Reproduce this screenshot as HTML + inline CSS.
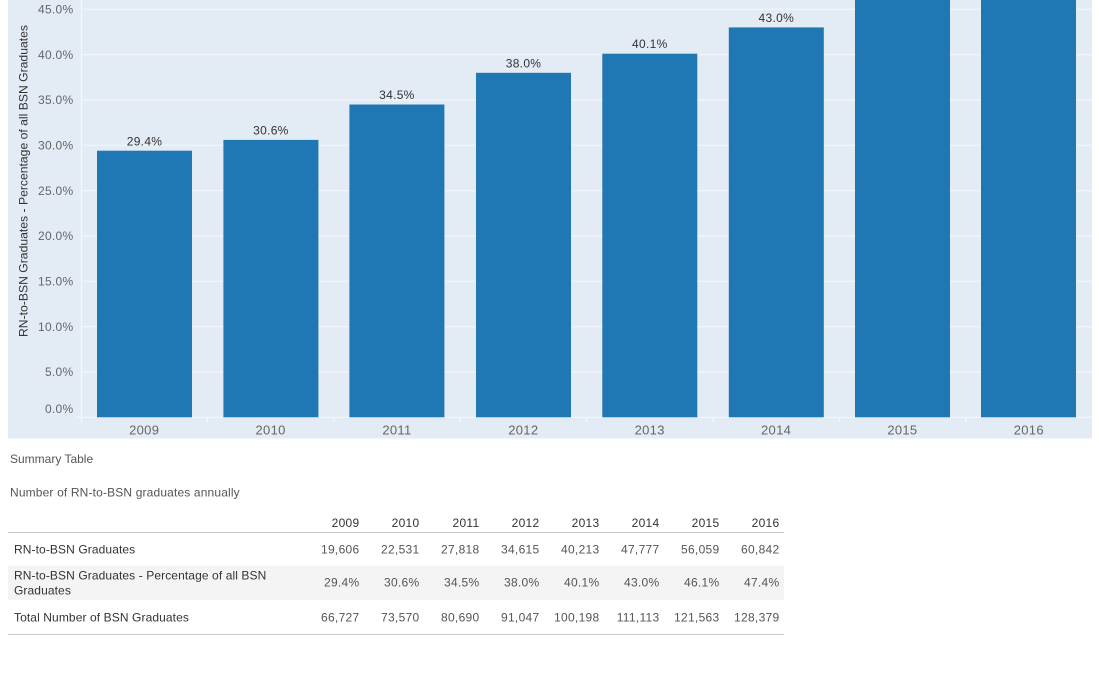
<!DOCTYPE html>
<html>
<head>
<meta charset="utf-8">
<style>
  html,body{margin:0;padding:0;background:#fff;}
  body{width:1099px;height:680px;overflow:hidden;}
  svg{display:block;font-family:"Liberation Sans",sans-serif;}
</style>
</head>
<body>
<svg width="1099" height="680" viewBox="0 0 1099 680" xmlns="http://www.w3.org/2000/svg">
  <!-- chart background -->
  <rect x="8" y="0" width="1084" height="438.5" fill="#e3ecf5"/>
  <!-- gridlines -->
  <g stroke="#f1f5fa" stroke-width="1.2">
    <line x1="81" y1="9.3" x2="1092" y2="9.3"/>
    <line x1="81" y1="54.6" x2="1092" y2="54.6"/>
    <line x1="81" y1="100" x2="1092" y2="100"/>
    <line x1="81" y1="145.3" x2="1092" y2="145.3"/>
    <line x1="81" y1="190.6" x2="1092" y2="190.6"/>
    <line x1="81" y1="236" x2="1092" y2="236"/>
    <line x1="81" y1="281.3" x2="1092" y2="281.3"/>
    <line x1="81" y1="326.6" x2="1092" y2="326.6"/>
    <line x1="81" y1="372" x2="1092" y2="372"/>
  </g>
  <!-- axis lines -->
  <g stroke="#f4f7fb" stroke-width="1.2">
    <line x1="81.5" y1="0" x2="81.5" y2="422"/>
    <line x1="76" y1="417.3" x2="1092" y2="417.3"/>
    <line x1="207.4" y1="417.3" x2="207.4" y2="422"/>
    <line x1="333.8" y1="417.3" x2="333.8" y2="422"/>
    <line x1="460.1" y1="417.3" x2="460.1" y2="422"/>
    <line x1="586.5" y1="417.3" x2="586.5" y2="422"/>
    <line x1="712.9" y1="417.3" x2="712.9" y2="422"/>
    <line x1="839.3" y1="417.3" x2="839.3" y2="422"/>
    <line x1="965.6" y1="417.3" x2="965.6" y2="422"/>
  </g>
  <!-- bars -->
  <g fill="#1f77b4">
    <rect x="97" y="150.7" width="95" height="266.6"/>
    <rect x="223.4" y="139.9" width="95" height="277.4"/>
    <rect x="349.4" y="104.5" width="95" height="312.8"/>
    <rect x="476" y="72.8" width="95" height="344.5"/>
    <rect x="602.3" y="53.7" width="95" height="363.6"/>
    <rect x="728.8" y="27.4" width="95" height="389.9"/>
    <rect x="855" y="0" width="95" height="417.3"/>
    <rect x="981" y="0" width="95" height="417.3"/>
  </g>
  <!-- bar labels -->
  <g font-size="12" fill="#333" text-anchor="middle" letter-spacing="0.3">
    <text x="144.5" y="145.3">29.4%</text>
    <text x="270.9" y="134.5">30.6%</text>
    <text x="396.9" y="99">34.5%</text>
    <text x="523.5" y="67.3">38.0%</text>
    <text x="649.8" y="48.2">40.1%</text>
    <text x="776.3" y="21.9">43.0%</text>
  </g>
  <!-- y tick labels -->
  <g font-size="12" fill="#666" text-anchor="end" letter-spacing="0.3">
    <text x="73.5" y="13.5">45.0%</text>
    <text x="73.5" y="58.8">40.0%</text>
    <text x="73.5" y="104.2">35.0%</text>
    <text x="73.5" y="149.5">30.0%</text>
    <text x="73.5" y="194.8">25.0%</text>
    <text x="73.5" y="240.2">20.0%</text>
    <text x="73.5" y="285.5">15.0%</text>
    <text x="73.5" y="330.8">10.0%</text>
    <text x="73.5" y="376.2">5.0%</text>
    <text x="73.5" y="412.9">0.0%</text>
  </g>
  <!-- y axis title -->
  <text x="0" y="0" font-size="12" fill="#333" text-anchor="middle" transform="translate(27.5,181) rotate(-90)" textLength="312" lengthAdjust="spacingAndGlyphs">RN-to-BSN Graduates - Percentage of all BSN Graduates</text>
  <!-- x labels -->
  <g font-size="13" fill="#666" text-anchor="middle" letter-spacing="0.3">
    <text x="144.2" y="434.7">2009</text>
    <text x="270.6" y="434.7">2010</text>
    <text x="396.9" y="434.7">2011</text>
    <text x="523.3" y="434.7">2012</text>
    <text x="649.7" y="434.7">2013</text>
    <text x="776.1" y="434.7">2014</text>
    <text x="902.4" y="434.7">2015</text>
    <text x="1028.8" y="434.7">2016</text>
  </g>

  <!-- summary titles -->
  <text x="10" y="463" font-size="12" fill="#555">Summary Table</text>
  <text x="10" y="496.3" font-size="12" fill="#555" letter-spacing="0.15">Number of RN-to-BSN graduates annually</text>

  <!-- table -->
  <rect x="8" y="566" width="776" height="34" fill="#f4f4f4"/>
  <line x1="8" y1="532.5" x2="784" y2="532.5" stroke="#c9c9c9" stroke-width="1"/>
  <line x1="8" y1="634.5" x2="784" y2="634.5" stroke="#c9c9c9" stroke-width="1"/>

  <g font-size="12" fill="#333" text-anchor="end" letter-spacing="0.3">
    <text x="359.5" y="527">2009</text>
    <text x="419.5" y="527">2010</text>
    <text x="479.5" y="527">2011</text>
    <text x="539.5" y="527">2012</text>
    <text x="599.5" y="527">2013</text>
    <text x="659.5" y="527">2014</text>
    <text x="719.5" y="527">2015</text>
    <text x="779.5" y="527">2016</text>
  </g>

  <g font-size="12" fill="#333" letter-spacing="0.1">
    <text x="14" y="553.6">RN-to-BSN Graduates</text>
    <text x="14" y="579.3">RN-to-BSN Graduates - Percentage of all BSN</text>
    <text x="14" y="594.6">Graduates</text>
    <text x="14" y="621.6">Total Number of BSN Graduates</text>
  </g>

  <g font-size="12" fill="#555" text-anchor="end" letter-spacing="0.3">
    <text x="359.5" y="553.6">19,606</text>
    <text x="419.5" y="553.6">22,531</text>
    <text x="479.5" y="553.6">27,818</text>
    <text x="539.5" y="553.6">34,615</text>
    <text x="599.5" y="553.6">40,213</text>
    <text x="659.5" y="553.6">47,777</text>
    <text x="719.5" y="553.6">56,059</text>
    <text x="779.5" y="553.6">60,842</text>

    <text x="359.5" y="586.6">29.4%</text>
    <text x="419.5" y="586.6">30.6%</text>
    <text x="479.5" y="586.6">34.5%</text>
    <text x="539.5" y="586.6">38.0%</text>
    <text x="599.5" y="586.6">40.1%</text>
    <text x="659.5" y="586.6">43.0%</text>
    <text x="719.5" y="586.6">46.1%</text>
    <text x="779.5" y="586.6">47.4%</text>

    <text x="359.5" y="621.6">66,727</text>
    <text x="419.5" y="621.6">73,570</text>
    <text x="479.5" y="621.6">80,690</text>
    <text x="539.5" y="621.6">91,047</text>
    <text x="599.5" y="621.6">100,198</text>
    <text x="659.5" y="621.6">111,113</text>
    <text x="719.5" y="621.6">121,563</text>
    <text x="779.5" y="621.6">128,379</text>
  </g>
</svg>
</body>
</html>
